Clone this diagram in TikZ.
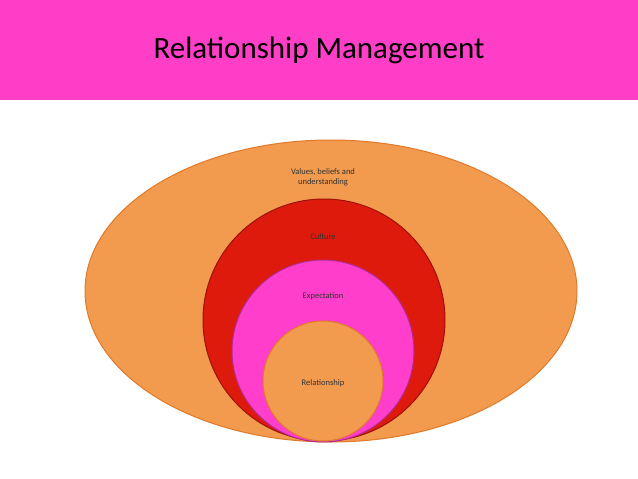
\documentclass[tikz,border=0pt]{standalone}
\usepackage{fontspec}
\setmainfont{Carlito}
\definecolor{hdr}{HTML}{FF3EC8}
\definecolor{org}{HTML}{F29A4E}
\definecolor{orgd}{HTML}{E07A2A}
\definecolor{redc}{HTML}{DE1A0C}
\definecolor{pinkc}{HTML}{FF3ECB}
\tikzset{lbl/.style={font=\fontsize{8.5}{10}\selectfont, align=center, text=black!80}}
\begin{document}
\begin{tikzpicture}[x=1pt,y=-1pt]
\useasboundingbox (0,0) rectangle (638,479);
\fill[white] (0,0) rectangle (638,479);
\fill[hdr] (0,0) rectangle (638,100);
\node (title) at (319,50) {\fontsize{31}{36}\selectfont Relationship Management};
\draw[orgd, fill=org, line width=1pt] (331,291) ellipse [x radius=246, y radius=151];
\draw[redc!70!black, fill=redc, line width=1pt] (324,320) circle [radius=121];
\draw[pinkc!70!black, fill=pinkc, line width=1pt] (323,351) circle [radius=91];
\draw[orgd, fill=org, line width=1pt] (323,381) circle [radius=60];
\node[lbl] (v) at (323,177) {Values, beliefs and\\understanding};
\node[lbl] (c) at (323,237) {Culture};
\node[lbl] (e) at (323,296) {Expectation};
\node[lbl] (r) at (323,383) {Relationship};
\end{tikzpicture}
\end{document}
